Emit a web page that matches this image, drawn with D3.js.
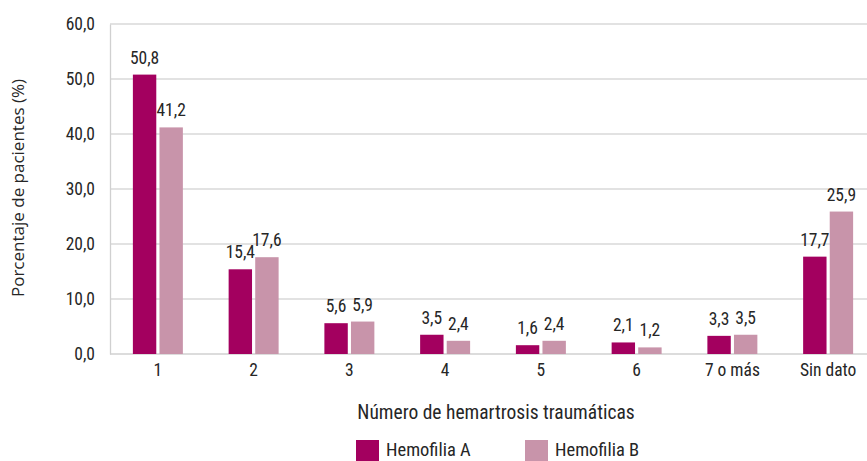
<!DOCTYPE html>
<html>
<head>
<meta charset="utf-8">
<script src="https://cdn.jsdelivr.net/npm/d3@7"></script>
<style>
  html, body { margin: 0; padding: 0; background: #fff; }
  svg { display: block; }
  .cond { font-family: "Liberation Sans Narrow", "Roboto Condensed", "Arial Narrow", sans-serif; }
</style>
</head>
<body>
<svg id="chart" width="867" height="461"></svg>
<script>
// Episodes of traumatic haemarthrosis per patient, by haemophilia type
const categories = ["1", "2", "3", "4", "5", "6", "7 o más", "Sin dato"];
const hemofiliaA = [50.8, 15.4, 5.6, 3.5, 1.6, 2.1, 3.3, 17.7];
const hemofiliaB = [41.2, 17.6, 5.9, 2.4, 2.4, 1.2, 3.5, 25.9];
const seriesNames = ["Hemofilia A", "Hemofilia B"];
const yTicks = [0, 10, 20, 30, 40, 50, 60];

const colors = ["#a3005f", "#c894aa"];
const W = 867, H = 461;
const svg = d3.select("#chart");

const x0 = d3.scaleBand().domain(categories).range([110, 876]).paddingInner(0.478).paddingOuter(0.239);
const x1 = d3.scaleBand().domain(seriesNames).range([0, x0.bandwidth()]).paddingInner(0.12);
const y = d3.scaleLinear().domain([0, 60]).range([354, 24]);

const fmt = v => d3.format(".1f")(v).replace(".", ",");

// gridlines
svg.append("g").selectAll("line").data(yTicks.filter(d => d > 0)).join("line")
  .attr("x1", 110).attr("x2", W)
  .attr("y1", d => y(d)).attr("y2", d => y(d))
  .attr("stroke", "#d9d9d9").attr("stroke-width", 1.3);

// y axis
const yAxis = svg.append("g").attr("transform", "translate(110,0)")
  .call(d3.axisLeft(y).tickValues(yTicks).tickSize(0).tickPadding(15).tickFormat(fmt));
yAxis.select(".domain").attr("stroke", "#d0d0d0").attr("stroke-width", 1.3);
yAxis.selectAll("text").attr("class", "cond").attr("font-size", 17.5).attr("fill", "#262626");

// x axis
const xAxis = svg.append("g").attr("transform", "translate(0,354)")
  .call(d3.axisBottom(x0).tickSize(0).tickPadding(10));
xAxis.select(".domain").attr("stroke", "#d0d0d0").attr("stroke-width", 1.3).attr("d", `M110,0H${W}`);
xAxis.selectAll("text").attr("class", "cond").attr("font-size", 17.5).attr("fill", "#262626");

// bars + value labels
const rows = categories.map((c, i) => ({ c, vals: [hemofiliaA[i], hemofiliaB[i]] }));
const groups = svg.append("g").selectAll("g").data(rows).join("g")
  .attr("transform", d => `translate(${x0(d.c)},0)`);
groups.selectAll("rect").data(d => d.vals.map((v, k) => ({ v, k }))).join("rect")
  .attr("x", d => x1(seriesNames[d.k]))
  .attr("width", x1.bandwidth())
  .attr("y", d => y(d.v))
  .attr("height", d => y(0) - y(d.v))
  .attr("fill", d => colors[d.k]);
groups.selectAll("text").data(d => d.vals.map((v, k) => ({ v, k }))).join("text")
  .attr("class", "cond")
  .attr("x", d => x1(seriesNames[d.k]) + x1.bandwidth() / 2)
  .attr("y", d => y(d.v) - 11)
  .attr("text-anchor", "middle")
  .attr("font-size", 17.5).attr("fill", "#262626")
  .text(d => fmt(d.v));

// axis titles
svg.append("text")
  .attr("transform", "translate(24,188) rotate(-90)")
  .attr("text-anchor", "middle")
  .attr("font-family", "'Open Sans', 'Noto Sans', sans-serif")
  .attr("font-size", 17).attr("fill", "#262626")
  .text("Porcentaje de pacientes (%)");
svg.append("text").attr("class", "cond")
  .attr("x", 496).attr("y", 419)
  .attr("text-anchor", "middle")
  .attr("font-size", 19.5).attr("fill", "#262626")
  .text("Número de hemartrosis traumáticas");

// legend
const legendX = [356, 525];
const legend = svg.append("g").selectAll("g").data(seriesNames).join("g")
  .attr("transform", (d, i) => `translate(${legendX[i]},440)`);
legend.append("rect").attr("width", 23).attr("height", 21).attr("fill", (d, i) => colors[i]);
legend.append("text").attr("class", "cond")
  .attr("x", 30).attr("y", 15.5)
  .attr("font-size", 18.5).attr("fill", "#262626")
  .text(d => d);
</script>
</body>
</html>
